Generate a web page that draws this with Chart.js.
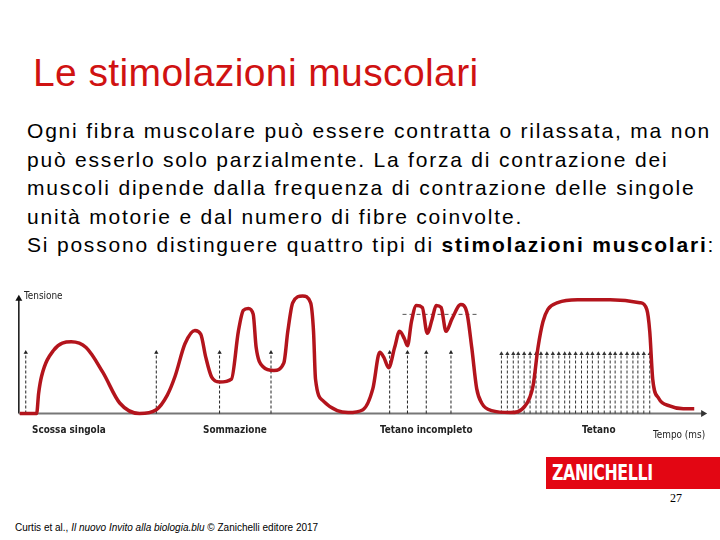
<!DOCTYPE html>
<html>
<head>
<meta charset="utf-8">
<script src="https://cdn.jsdelivr.net/npm/chart.js@4/dist/chart.umd.min.js"></script>
<style>
  body { margin: 0; background: #fff; }
  #slide { position: relative; width: 720px; height: 540px; overflow: hidden; background: #fff; font-family: "Liberation Sans", Arial, sans-serif; }
  #title { position: absolute; left: 33px; top: 53px; font-size: 39px; line-height: 1; color: #d01212; white-space: nowrap; letter-spacing: 0.4px; }
  #text { position: absolute; left: 27px; top: 117px; font-size: 21px; line-height: 28.5px; color: #000; white-space: nowrap; letter-spacing: 1.8px; }
  #chart { position: absolute; left: 0; top: 270px; }
  .lab { position: absolute; font-family: "Liberation Sans Narrow", "DejaVu Sans Condensed", sans-serif; font-size: 11px; line-height: 12px; color: #222; white-space: nowrap; transform: scaleX(0.9); transform-origin: 0 0; }
  .lab.b { font-weight: bold; }
  #logo { position: absolute; left: 546px; top: 457px; width: 174px; height: 32px; background: #e30613; }
  #logo span { position: absolute; left: 6px; top: 5px; font-family: "Liberation Sans Narrow", "DejaVu Sans Condensed", sans-serif; font-weight: bold; font-size: 22px; line-height: 22px; color: #fff; letter-spacing: -0.5px; transform: scaleX(0.8); transform-origin: 0 0; }
  #page { position: absolute; left: 670px; top: 492px; font-family: "Liberation Serif", serif; font-size: 12px; line-height: 12px; color: #000; }
  #cite { position: absolute; left: 15px; top: 522px; font-size: 10px; line-height: 11px; color: #000; white-space: nowrap; }
</style>
</head>
<body>
<div id="slide">
  <div id="title">Le stimolazioni muscolari</div>
  <div id="text">Ogni fibra muscolare può essere contratta o rilassata, ma non<br>può esserlo solo parzialmente. La forza di contrazione dei<br>muscoli dipende dalla frequenza di contrazione delle singole<br>unità motorie e dal numero di fibre coinvolte.<br>Si possono distinguere quattro tipi di <b>stimolazioni muscolari</b>:</div>
  <canvas id="chart" width="720" height="180"></canvas>
  <div class="lab" style="left:24px;top:290px;">Tensione</div>
  <div class="lab b" style="left:32px;top:424px;">Scossa singola</div>
  <div class="lab b" style="left:203px;top:424px;">Sommazione</div>
  <div class="lab b" style="left:380px;top:424px;">Tetano incompleto</div>
  <div class="lab b" style="left:582px;top:424px;">Tetano</div>
  <div class="lab" style="left:653px;top:429px;">Tempo (ms)</div>
  <div id="logo"><span>ZANICHELLI</span></div>
  <div id="page">27</div>
  <div id="cite">Curtis et al., <i>Il nuovo Invito alla biologia.blu</i> © Zanichelli editore 2017</div>
</div>
<script>
// tension curve (time in ms-like units, tension in arbitrary units)
const curveTime = [1, 18, 20, 23, 35, 53, 68, 85, 102, 122, 139, 150, 158, 168, 178, 184, 189, 195, 203,
  215, 222, 227, 232, 237, 240, 247, 258, 268, 272, 277, 287, 295, 298, 300, 308, 322, 333, 348, 358,
  365, 369, 374, 380, 385, 390, 393, 397, 402, 408, 413, 418, 422, 427, 432, 438, 447, 453, 458, 463,
  468, 478, 497, 512, 520, 525, 530, 535, 545, 565, 598, 628, 635, 638, 641, 647, 658, 672, 683];
const curveTension = [0, 0, 16.8, 31.2, 52.8, 60, 55.2, 34.4, 8.8, 0, 3.2, 15.2, 31.2, 58.4, 69.6, 66.4, 47.2, 30.4, 26.4,
  28.8, 68.8, 86.4, 88, 83.2, 55.2, 39.2, 36, 42.4, 68.8, 92.8, 98.4, 92.8, 68.8, 28.8, 10.4, 2.4, 0.8, 3.2, 20.8,
  51.2, 47.2, 38.4, 55.2, 68.8, 62.4, 56.8, 76.8, 90.4, 88.8, 67.2, 79.2, 90.4, 88.8, 68.8, 79.2, 91.2, 84.8, 55.2, 20.8,
  8.8, 2.4, 0.8, 6.4, 23.2, 55.2, 76.8, 87.2, 92.8, 95.2, 95.2, 92.8, 87.2, 68.8, 28.8, 12.8, 6.4, 4, 4];

// stimuli (dashed arrows)
const stimulusTimes = [7, 139, 203, 255, 375, 393, 412, 437];
const stimulusHeight = 51;
const tetanusTimes = [488, 494, 500, 505, 511, 517, 523, 528, 534, 540, 546, 552, 557, 563, 569,
  575, 580, 586, 592, 598, 603, 609, 615, 621, 626, 632, 638];
const tetanusHeight = 50;

// reference level of incomplete tetanus
const plateauLevel = 83;
const plateauRange = [388, 463];

const axisEndTime = 692;
const axisEndTension = 96;

function arrows(times, h) {
  const pts = [];
  times.forEach((t) => {
    pts.push({ x: t, y: 0 });
    pts.push({ x: t, y: h, tip: true });
    pts.push({ x: t, y: null });
  });
  return pts;
}

const tipRadius = (c) => (c.raw && c.raw.tip ? 2.5 : 0);
const endRadius = (c) => (c.dataIndex === 1 ? 4 : 0);

new Chart(document.getElementById("chart").getContext("2d"), {
  type: "line",
  data: {
    datasets: [
      {
        label: "Tensione",
        data: curveTime.map((t, i) => ({ x: t, y: curveTension[i] })),
        borderColor: "#b3141c",
        borderWidth: 3.5,
        pointRadius: 0,
        cubicInterpolationMode: "monotone",
        order: 0,
      },
      {
        label: "Stimoli",
        data: arrows(stimulusTimes, stimulusHeight),
        borderColor: "#222",
        borderWidth: 1,
        borderDash: [3, 2],
        pointStyle: "triangle",
        pointRadius: tipRadius,
        pointBackgroundColor: "#222",
        pointBorderWidth: 0,
        spanGaps: false,
        order: 2,
      },
      {
        label: "Stimoli tetano",
        data: arrows(tetanusTimes, tetanusHeight),
        borderColor: "#333",
        borderWidth: 1,
        borderDash: [3, 2],
        pointStyle: "triangle",
        pointRadius: tipRadius,
        pointBackgroundColor: "#333",
        pointBorderWidth: 0,
        spanGaps: false,
        order: 2,
      },
      {
        label: "Livello",
        data: [{ x: plateauRange[0], y: plateauLevel }, { x: plateauRange[1], y: plateauLevel }],
        borderColor: "#555",
        borderWidth: 1,
        borderDash: [4, 3],
        pointRadius: 0,
        order: 2,
      },
      {
        label: "Asse x",
        data: [{ x: 0, y: 0 }, { x: axisEndTime, y: 0 }],
        borderColor: "#777",
        borderWidth: 2,
        pointStyle: "triangle",
        pointRotation: 90,
        pointRadius: endRadius,
        pointBackgroundColor: "#333",
        pointBorderWidth: 0,
        order: 3,
      },
      {
        label: "Asse y",
        data: [{ x: 0, y: 0 }, { x: 0, y: axisEndTension }],
        borderColor: "#111",
        borderWidth: 1.5,
        pointStyle: "triangle",
        pointRadius: endRadius,
        pointBackgroundColor: "#111",
        pointBorderWidth: 0,
        order: 3,
      },
    ],
  },
  options: {
    responsive: false,
    animation: false,
    layout: { padding: 0 },
    scales: {
      x: { type: "linear", min: -15, max: 705, display: false },
      y: { min: -27.2, max: 116.8, display: false },
    },
    plugins: {
      legend: { display: false },
      tooltip: { enabled: false },
    },
  },
});
</script>
</body>
</html>
